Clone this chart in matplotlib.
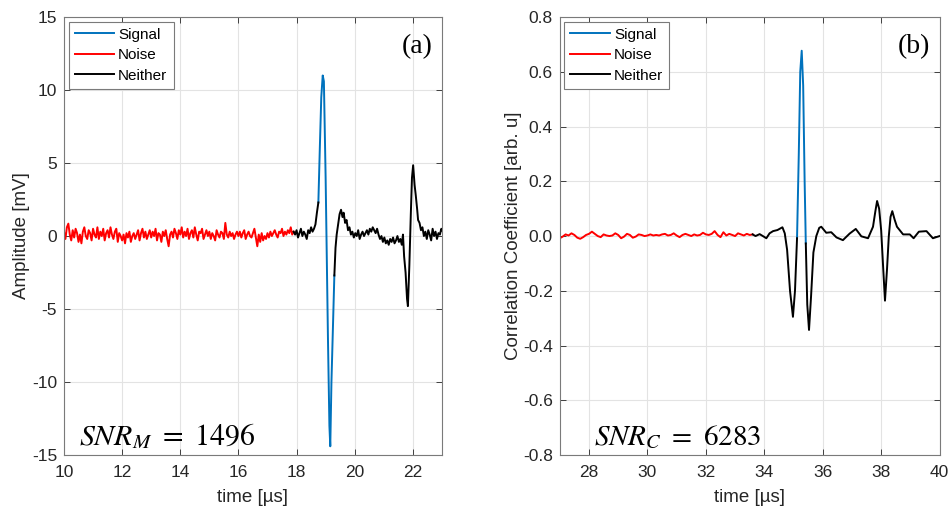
import numpy as np
import matplotlib
matplotlib.use("Agg")
import matplotlib.pyplot as plt

# ---------------------------------------------------------------------------
# Data
# ---------------------------------------------------------------------------

# (a) measured amplitude [mV]
noise_a_t0, noise_a_dt = 10.0, 0.05
noise_a = [
    0.3, -0.2, 0.6, 0.85, 0.1, -0.3, 0.4, -0.1, 0.5, 0.2, -0.4, 0.1, -0.5, 0.3, 0.6, 0.0, -0.2, 0.4, 0.2, -0.3,
    0.5, 0.1, -0.1, 0.6, -0.2, 0.3, 0.0, 0.5, -0.3, 0.2, 0.4, -0.1, 0.6, 0.1, -0.2, 0.3, 0.5, -0.4, 0.2, 0.0,
    -0.3, 0.1, -0.5, 0.2, -0.1, 0.3, -0.4, 0.0, 0.2, -0.2, 0.1, 0.4, -0.3, 0.2, 0.5, -0.1, 0.3, -0.2, 0.1, 0.4,
    -0.1, 0.3, 0.0, 0.5, -0.3, 0.2, 0.1, -0.4, 0.3, 0.0, 0.4, -0.2, -0.7, 0.1, 0.3, -0.1, 0.5, 0.2, -0.2, 0.4,
    0.1, 0.6, -0.1, 0.3, 0.0, 0.5, -0.2, 0.2, 0.4, -0.1, 0.6, 0.1, -0.3, 0.3, 0.2, 0.5, -0.2, 0.1, 0.4, 0.0,
    0.3, -0.2, 0.2, 0.0, -0.3, 0.4, 0.1, -0.1, 0.3, 0.2, -0.2, 0.9, 0.1, -0.1, 0.3, 0.0, 0.2, -0.2, 0.1, 0.3,
    0.0, 0.3, -0.1, 0.2, 0.4, -0.2, 0.1, 0.3, 0.0, -0.1, 0.2, 0.5, -0.1, -0.7, 0.1, -0.4, 0.2, -0.3, 0.0, -0.2,
    0.2, -0.1, 0.3, 0.0, 0.2, 0.4, 0.1, -0.1, 0.3, 0.2, 0.5, 0.0, 0.3, 0.1, 0.4, 0.2, 0.6, 0.1, 0.3,
]
pre_a_t0, pre_a_dt = 17.9, 0.05
pre_a = [0.3, 0.1, 0.4, -0.1, 0.2, 0.5, 0.0, 0.3, 0.1, -0.2, 0.4, 0.2, 0.6, 0.3, 0.5, 0.8, 1.6, 2.3]

sig_a_t = [18.75, 18.80, 18.85, 18.90, 18.94, 19.00, 19.08, 19.13, 19.16, 19.20, 19.30]
sig_a = [2.3, 6.0, 9.5, 11.0, 10.6, 4.0, -7.0, -13.0, -14.4, -10.0, -2.7]

post_a_t = [19.30, 19.34, 19.38, 19.43, 19.48, 19.53, 19.58, 19.62, 19.67, 19.72, 19.77, 19.82, 19.87,
            19.92, 19.97, 20.02, 20.07, 20.12, 20.17, 20.22, 20.27, 20.32, 20.37, 20.42, 20.47, 20.52,
            20.57, 20.62, 20.67, 20.72, 20.77, 20.82, 20.87, 20.92, 20.97, 21.02, 21.07, 21.12, 21.17,
            21.22, 21.27, 21.32, 21.37, 21.42, 21.47, 21.52, 21.57, 21.62,
            21.66, 21.70, 21.75, 21.80, 21.83, 21.88, 21.93, 21.97, 22.01, 22.06, 22.10, 22.15, 22.18,
            22.23, 22.28, 22.33, 22.38, 22.43, 22.48, 22.53, 22.58, 22.63, 22.68, 22.73, 22.78, 22.83,
            22.88, 22.93, 22.98, 23.0]
post_a = [-2.7, -0.8, 0.1, 0.8, 1.5, 1.8, 1.3, 1.6, 0.9, 1.1, 0.4, 0.6, 0.1,
          0.3, -0.1, 0.2, 0.0, 0.4, -0.2, 0.1, 0.3, 0.0, 0.2, 0.4, 0.1, 0.5,
          0.3, 0.6, 0.4, 0.2, 0.5, 0.1, -0.2, 0.0, -0.4, -0.1, -0.5, -0.3, -0.6,
          -0.2, -0.4, -0.1, -0.5, -0.3, 0.0, -0.4, -0.2, -0.6,
          0.1, -1.4, -2.5, -4.3, -4.8, -2.0, 1.5, 4.0, 4.85, 3.5, 2.8, 1.8, 1.1,
          0.9, 0.4, 0.6, 0.0, 0.3, -0.2, 0.4, 0.1, -0.3, 0.5, 0.0, 0.3, -0.2,
          0.2, 0.1, 0.5, 0.4]

# (b) correlation coefficient [arb. u]
noise_b_t0, noise_b_dt = 27.0, 0.1
noise_b = [
    -0.008, -0.002, 0.006, 0.002, 0.010, 0.004, -0.006, -0.010, -0.004, 0.004,
    0.008, 0.016, 0.008, 0.000, -0.004, 0.006, 0.002, 0.000, 0.002, 0.010,
    0.004, -0.008, -0.002, 0.008, 0.004, -0.006, -0.002, 0.006, 0.004, 0.000,
    0.002, 0.006, 0.002, 0.004, 0.002, 0.006, 0.008, 0.002, 0.004, 0.010,
    0.002, -0.004, 0.004, 0.008, 0.004, 0.000, 0.006, 0.002, 0.004, 0.012,
    0.006, 0.004, 0.008, 0.018, 0.004, -0.004, 0.014, 0.002, 0.008, 0.004,
    0.000, 0.010, 0.006, 0.002, 0.008, 0.004, 0.006,
]
pre_b_t = [33.6, 33.7, 33.84, 33.95, 34.07, 34.18, 34.30, 34.45, 34.62, 34.70, 34.78,
           34.88, 34.98, 35.05, 35.12]
pre_b = [0.006, 0.000, 0.007, 0.000, -0.008, 0.010, 0.018, 0.022, 0.032, 0.010, -0.05,
         -0.20, -0.295, -0.20, -0.008]

sig_b_t = [35.12, 35.18, 35.23, 35.28, 35.33, 35.38, 35.42]
sig_b = [-0.008, 0.30, 0.60, 0.677, 0.55, 0.20, -0.027]

post_b_t = [35.42, 35.47, 35.53, 35.60, 35.68, 35.78, 35.88, 35.95, 36.12, 36.29, 36.47,
            36.69, 36.92, 37.13, 37.32, 37.55, 37.72, 37.80, 37.86, 37.93, 38.00, 38.07,
            38.13, 38.20, 38.26, 38.32, 38.38, 38.46, 38.54, 38.75, 38.98, 39.11, 39.29,
            39.55, 39.77, 40.0]
post_b = [-0.027, -0.25, -0.343, -0.22, -0.06, 0.0, 0.03, 0.034, 0.012, 0.014, -0.005,
          -0.015, 0.009, 0.026, -0.001, -0.008, 0.034, 0.09, 0.128, 0.10, 0.02, -0.12,
          -0.236, -0.12, -0.002, 0.07, 0.091, 0.06, 0.034, 0.006, 0.006, -0.008, 0.016,
          0.018, -0.008, 0.0]

# ---------------------------------------------------------------------------
# Styling (MATLAB-ish look)
# ---------------------------------------------------------------------------

BLUE = "#0072BD"
RED = "#FF0000"
BLACK = "#000000"
LW = 1.4
TICK_FS = 12.5
LABEL_FS = 13.5
INK = "#262626"

plt.rcParams["font.family"] = ["Liberation Sans", "DejaVu Sans"]
plt.rcParams["mathtext.fontset"] = "stix"
plt.rcParams["axes.unicode_minus"] = False

fig = plt.figure(figsize=(9.52, 5.09), dpi=100)
ax_a = fig.add_axes([0.0672, 0.106, 0.397, 0.8605])
ax_b = fig.add_axes([0.588, 0.106, 0.399, 0.8605])


def style_axes(ax):
    ax.grid(True, color="#e3e3e3", linewidth=0.8)
    ax.set_axisbelow(True)
    ax.tick_params(direction="in", top=True, right=True, length=4,
                   labelsize=TICK_FS, colors=INK, width=0.6)
    ax.tick_params(axis="x", pad=7)
    ax.tick_params(axis="y", pad=5)
    for sp in ax.spines.values():
        sp.set_color("#7a7a7a")
        sp.set_linewidth(0.8)


# --- panel (a) --------------------------------------------------------------
t_noise_a = noise_a_t0 + noise_a_dt * np.arange(len(noise_a))
t_pre_a = pre_a_t0 + pre_a_dt * np.arange(len(pre_a))

ax_a.plot(sig_a_t, sig_a, color=BLUE, lw=LW, label="Signal")
ax_a.plot(np.append(t_noise_a, t_pre_a[0]), noise_a + [pre_a[0]], color=RED, lw=LW, label="Noise")
ax_a.plot(list(t_pre_a) + [sig_a_t[0]], pre_a + [sig_a[0]], color=BLACK, lw=LW, label="Neither")
ax_a.plot(post_a_t, post_a, color=BLACK, lw=LW)

ax_a.set_xlim(10, 23)
ax_a.set_ylim(-15, 15)
ax_a.set_xticks(np.arange(10, 23, 2))
ax_a.set_yticks(np.arange(-15, 16, 5))
ax_a.set_xlabel("time [µs]", fontsize=LABEL_FS, color=INK, labelpad=7)
ax_a.set_ylabel("Amplitude [mV]", fontsize=LABEL_FS, color=INK, labelpad=1)
style_axes(ax_a)
ax_a.text(0.976, 0.962, "(a)", transform=ax_a.transAxes, ha="right", va="top",
          fontsize=20, family="Liberation Serif")
ax_a.text(0.04, 0.023, r"$SNR_M\ =\ 1496$", transform=ax_a.transAxes, ha="left",
          va="baseline", fontsize=21.5)

# --- panel (b) --------------------------------------------------------------
t_noise_b = noise_b_t0 + noise_b_dt * np.arange(len(noise_b))

ax_b.plot(sig_b_t, sig_b, color=BLUE, lw=LW, label="Signal")
ax_b.plot(t_noise_b, noise_b, color=RED, lw=LW, label="Noise")
ax_b.plot(pre_b_t, pre_b, color=BLACK, lw=LW, label="Neither")
ax_b.plot(post_b_t, post_b, color=BLACK, lw=LW)

ax_b.set_xlim(27, 40)
ax_b.set_ylim(-0.8, 0.8)
ax_b.set_xticks(np.arange(28, 41, 2))
ax_b.set_yticks(np.round(np.arange(-0.8, 0.81, 0.2), 1))
ax_b.set_xlabel("time [µs]", fontsize=LABEL_FS, color=INK, labelpad=7)
ax_b.set_ylabel("Correlation Coefficient [arb. u]", fontsize=LABEL_FS, color=INK, labelpad=1)
style_axes(ax_b)
ax_b.text(0.976, 0.962, "(b)", transform=ax_b.transAxes, ha="right", va="top",
          fontsize=20, family="Liberation Serif")
ax_b.text(0.09, 0.023, r"$SNR_C\ =\ 6283$", transform=ax_b.transAxes, ha="left",
          va="baseline", fontsize=21)

for ax in (ax_a, ax_b):
    leg = ax.legend(loc="upper left", fontsize=11, frameon=True, fancybox=False,
                    framealpha=1, edgecolor="#7a7a7a", handlelength=2.6,
                    handletextpad=0.25, borderpad=0.4, labelspacing=0.42,
                    borderaxespad=0.3)
    leg.get_frame().set_linewidth(0.8)
    for txt in leg.get_texts():
        txt.set_color("#000000")

fig.savefig("out.png", dpi=100)
